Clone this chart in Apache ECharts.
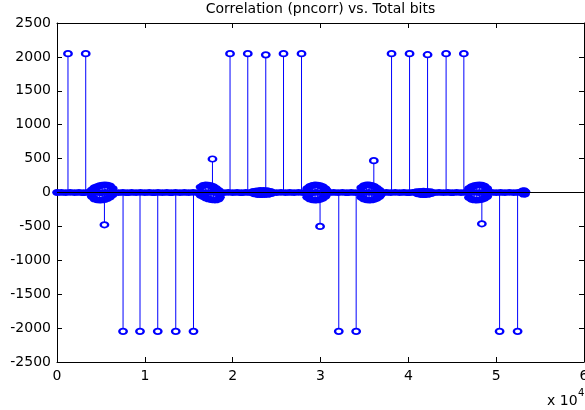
<!DOCTYPE html>
<html>
<head>
<meta charset="utf-8">
<script src="https://cdn.jsdelivr.net/npm/echarts@6/dist/echarts.min.js"></script>
<style>
html,body{margin:0;padding:0;background:#fff;}
#chart{width:585px;height:410px;}
</style>
</head>
<body>
<div id="chart"></div>
<script>
// ---- Data (bit index, correlation value) ----
const titleText = 'Correlation (pncorr) vs. Total bits';
const xTickLabels = ['0', '1', '2', '3', '4', '5', '6'];   // x 10^4
const yTickValues = [-2500, -2000, -1500, -1000, -500, 0, 500, 1000, 1500, 2000, 2500];

// Large correlation peaks (open-circle stems)
const peakBits   = [1250, 3270, 5400, 7520, 9450, 11470, 13520, 15540, 17700, 19700, 21720, 23770, 25790, 27840, 29950, 32080, 34060, 36070, 38090, 40140, 42190, 44300, 46320, 48370, 50390, 52440];
const peakValues = [2048, 2048, -476, -2048, -2048, -2048, -2048, -2048, 494, 2048, 2048, 2030, 2048, 2048, -500, -2048, -2048, 470, 2048, 2048, 2032, 2048, 2048, -462, -2048, -2048];

// Near-zero correlation band
const bandPoints = [
  [0,0],[500,1],[1000,-1],[1500,2],[2000,-1],[2500,1],[3000,-2],[3500,1],[4000,-1],[4500,1],
  [5000,-2],[5500,1],[6000,-1],[6500,2],[7000,-1],[7500,1],[8000,-2],[8500,1],[9000,-1],[9500,2],
  [10000,-1],[10500,1],[11000,-2],[11500,1],[12000,-1],[12500,1],[13000,-2],[13500,2],[14000,-1],[14500,1],
  [15000,-1],[15500,2],[16000,-1],[16500,1],[17000,-2],[17500,2],[18000,-1],[18500,1],[19000,-1],[19500,2],
  [20000,-1],[20500,1],[21000,-2],[21500,1],[22000,-1],[22500,2],[23000,-1],[23500,1],[24000,-2],[24500,1],
  [25000,-1],[25500,2],[26000,-1],[26500,1],[27000,-1],[27500,2],[28000,-1],[28500,1],[29000,-2],[29500,1],
  [30000,-1],[30500,2],[31000,-1],[31500,1],[32000,-1],[32500,2],[33000,-2],[33500,1],[34000,-1],[34500,1],
  [35000,-1],[35500,2],[36000,-1],[36500,1],[37000,-2],[37500,1],[38000,-1],[38500,2],[39000,-1],[39500,1],
  [40000,-2],[40500,1],[41000,-1],[41500,1],[42000,-1],[42500,2],[43000,-1],[43500,1],[44000,-1],[44500,1],
  [45000,-2],[45500,2],[46000,-1],[46500,1],[47000,-1],[47500,2],[48000,-1],[48500,1],[49000,-2],[49500,1],
  [50000,-1],[50500,1],[51000,-1],[51500,2],[52000,-1],[52500,1]
];

// Side-lobe clusters around the half-period points
const cluster1 = [
  [3950,40],[4250,70],[4550,85],[4850,100],[5150,108],[5450,112],[5750,110],[6050,98],[6350,60],
  [3950,-60],[4250,-95],[4550,-108],[4850,-112],[5150,-110],[5450,-102],[5750,-88],[6050,-68],[6350,-35]
];
const cluster2 = [
  [16330,80],[16630,105],[16930,112],[17230,110],[17530,100],[17830,85],[18130,60],[18430,30],
  [16330,-40],[16630,-60],[16930,-80],[17230,-95],[17530,-105],[17830,-110],[18130,-110],[18430,-95],[18560,-70]
];
const cluster3 = [
  [22330,15],[22730,25],[23130,30],[23530,30],[23930,28],[24330,18],
  [22430,-20],[22830,-30],[23230,-32],[23630,-30],[24030,-28],[24430,-15]
];
const cluster4 = [
  [28480,60],[28780,90],[29080,105],[29380,112],[29680,110],[29980,100],[30280,85],[30580,55],[30720,30],
  [28480,-70],[28780,-95],[29080,-108],[29380,-112],[29680,-110],[29980,-100],[30280,-85],[30580,-55]
];
const cluster5 = [
  [34630,70],[34930,100],[35230,112],[35530,112],[35830,105],[36130,90],[36430,65],[36730,35],
  [34630,-70],[34930,-95],[35230,-108],[35530,-112],[35830,-110],[36130,-100],[36430,-85],[36730,-60],[36870,-35]
];
const cluster6 = [
  [40930,12],[41330,18],[41730,20],[42130,18],[42530,12],
  [41030,-20],[41430,-30],[41830,-32],[42230,-28],[42630,-15]
];
const cluster7 = [
  [46890,60],[47190,85],[47490,100],[47790,110],[48090,112],[48390,108],[48690,95],[48990,60],
  [46890,-75],[47190,-100],[47490,-110],[47790,-112],[48090,-108],[48390,-100],[48690,-85],[48990,-60]
];
const tailPoints = [[53000,25],[53100,-25],[53200,28],[53300,-22],[53350,10]];

const baseline = [[0, 0], [60000, 0]];

// ---- Build ----
const peakPoints = peakBits.map((b, i) => [b, peakValues[i]]);
const noisePoints = [].concat(bandPoints, cluster1, cluster2, cluster3, cluster4, cluster5, cluster6, cluster7, tailPoints);
const allStems = noisePoints.concat(peakPoints);

const FONT = '"DejaVu Sans", sans-serif';
const chart = echarts.init(document.getElementById('chart'), null, {renderer: 'canvas'});

const baseAxisLine = {show: true, lineStyle: {color: '#000', width: 1}};

function ellipsePath(x, y, rx, ry) {
  const k = 0.5523;
  return 'M' + (x - rx) + ' ' + y +
    ' C' + (x - rx) + ' ' + (y - ry * k) + ' ' + (x - rx * k) + ' ' + (y - ry) + ' ' + x + ' ' + (y - ry) +
    ' C' + (x + rx * k) + ' ' + (y - ry) + ' ' + (x + rx) + ' ' + (y - ry * k) + ' ' + (x + rx) + ' ' + y +
    ' C' + (x + rx) + ' ' + (y + ry * k) + ' ' + (x + rx * k) + ' ' + (y + ry) + ' ' + x + ' ' + (y + ry) +
    ' C' + (x - rx * k) + ' ' + (y + ry) + ' ' + (x - rx) + ' ' + (y + ry * k) + ' ' + (x - rx) + ' ' + y + ' Z';
}

chart.setOption({
  animation: false,
  backgroundColor: '#fff',
  grid: {left: 57, right: 1, top: 23, bottom: 48, containLabel: false, outerBoundsMode: 'none'},
  xAxis: [
    {
      type: 'value', min: 0, max: 60000, interval: 10000, position: 'bottom',
      axisLine: Object.assign({onZero: false}, baseAxisLine),
      axisTick: {show: true, inside: true, length: 5, lineStyle: {color: '#000'}},
      axisLabel: {
        show: true, color: '#000', fontFamily: FONT, fontSize: 14, margin: 7,
        hideOverlap: false,
        formatter: v => xTickLabels[Math.round(v / 10000)]
      },
      splitLine: {show: false}
    },
    {
      type: 'value', min: 0, max: 60000, interval: 10000, position: 'top',
      axisLine: Object.assign({onZero: false}, baseAxisLine),
      axisTick: {show: true, inside: true, length: 5, lineStyle: {color: '#000'}},
      axisLabel: {show: false}, splitLine: {show: false}
    }
  ],
  yAxis: [
    {
      type: 'value', min: -2500, max: 2500, interval: 500, position: 'left',
      axisLine: Object.assign({onZero: false}, baseAxisLine),
      axisTick: {show: true, inside: true, length: 5, lineStyle: {color: '#000'}},
      axisLabel: {
        show: true, color: '#000', fontFamily: FONT, fontSize: 14, margin: 6,
        formatter: v => String(yTickValues[yTickValues.indexOf(v)])
      },
      splitLine: {show: false}
    },
    {
      type: 'value', min: -2500, max: 2500, interval: 500, position: 'right',
      axisLine: Object.assign({onZero: false}, baseAxisLine),
      axisTick: {show: true, inside: true, length: 5, lineStyle: {color: '#000'}},
      axisLabel: {show: false}, splitLine: {show: false}
    }
  ],
  graphic: [
    {type: 'text', x: 320.5, y: 2, silent: true,
     style: {text: titleText, font: '14px ' + FONT, fill: '#000', textAlign: 'center', textVerticalAlign: 'top'}},
    {type: 'text', x: 547, y: 394, silent: true,
     style: {text: 'x 10', font: '14px ' + FONT, fill: '#000', textAlign: 'left', textVerticalAlign: 'top'}},
    {type: 'text', x: 578, y: 388, silent: true,
     style: {text: '4', font: '10px ' + FONT, fill: '#000', textAlign: 'left', textVerticalAlign: 'top'}}
  ],
  series: [
    {
      name: 'stems', type: 'custom', xAxisIndex: 0, yAxisIndex: 0, z: 1, silent: true,
      clip: false,
      data: allStems,
      encode: {x: 0, y: 1},
      renderItem: function (params, api) {
        const p0 = api.coord([api.value(0), 0]);
        const p1 = api.coord([api.value(0), api.value(1)]);
        return {
          type: 'line',
          shape: {x1: p0[0], y1: p0[1], x2: p1[0], y2: p1[1]},
          style: {stroke: '#0000ff', lineWidth: 1}
        };
      }
    },
    {
      name: 'band', type: 'custom', xAxisIndex: 0, yAxisIndex: 0, z: 2, silent: true,
      clip: false,
      data: noisePoints,
      encode: {x: 0, y: 1},
      renderItem: function (params, api) {
        const c = api.coord([api.value(0), api.value(1)]);
        return {
          type: 'path',
          shape: {pathData: ellipsePath(c[0], c[1], 4.8, 3.4)},
          style: {fill: '#0000ff', stroke: null}
        };
      }
    },
    {
      name: 'peaks', type: 'scatter', xAxisIndex: 0, yAxisIndex: 0, z: 3, silent: true, clip: false,
      data: peakPoints, symbol: 'emptyCircle', symbolSize: [7.5, 5.5],
      itemStyle: {color: '#0000ff', borderColor: '#0000ff', borderWidth: 1.1, opacity: 1}
    },
    {
      name: 'baseline', type: 'line', xAxisIndex: 0, yAxisIndex: 0, z: 4, silent: true,
      data: baseline, symbol: 'none',
      lineStyle: {color: '#000', width: 1}
    }
  ]
});
</script>
</body>
</html>
